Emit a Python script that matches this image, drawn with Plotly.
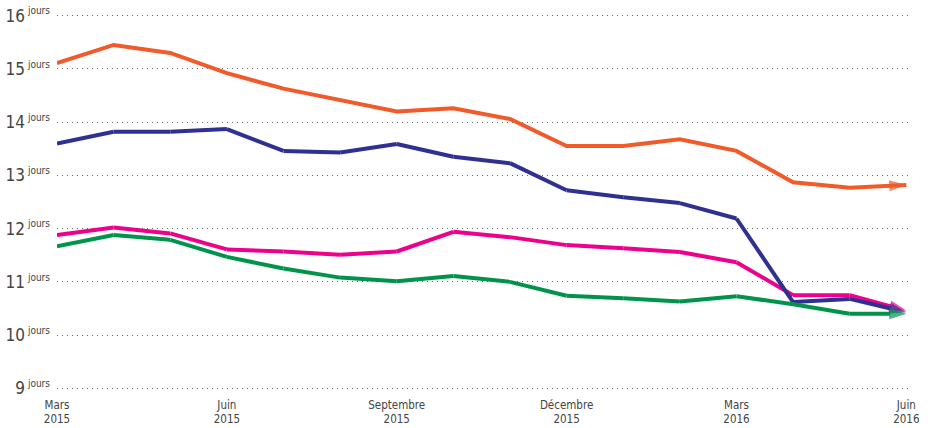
import plotly.graph_objects as go

months = ["2015-03", "2015-04", "2015-05", "2015-06", "2015-07", "2015-08", "2015-09", "2015-10",
          "2015-11", "2015-12", "2016-01", "2016-02", "2016-03", "2016-04", "2016-05", "2016-06"]
tick_months = ["2015-03", "2015-06", "2015-09", "2015-12", "2016-03", "2016-06"]
tick_labels = ["Mars<br>2015", "Juin<br>2015", "Septembre<br>2015", "Décembre<br>2015", "Mars<br>2016", "Juin<br>2016"]

orange = [15.11, 15.45, 15.30, 14.92, 14.63, 14.41, 14.20, 14.26, 14.06, 13.55, 13.55, 13.68, 13.46, 12.87, 12.77, 12.82]
navy = [13.60, 13.82, 13.82, 13.87, 13.46, 13.43, 13.59, 13.35, 13.23, 12.72, 12.59, 12.48, 12.19, 10.62, 10.68, 10.43]
magenta = [11.88, 12.02, 11.91, 11.61, 11.57, 11.51, 11.57, 11.94, 11.84, 11.69, 11.63, 11.56, 11.37, 10.75, 10.75, 10.46]
green = [11.67, 11.88, 11.79, 11.47, 11.25, 11.08, 11.01, 11.11, 11.00, 10.74, 10.69, 10.63, 10.73, 10.58, 10.40, 10.40]

y_ticks = [9, 10, 11, 12, 13, 14, 15, 16]
y_unit = "jours"

series = [
    ("orange", orange, "#F15A29"),
    ("magenta", magenta, "#EC008C"),
    ("navy", navy, "#2E3192"),
    ("green", green, "#00944A"),
]

fig = go.Figure()
n = len(months)
for name, vals, col in series:
    fig.add_trace(go.Scatter(
        x=months, y=vals, mode="lines+markers", name=name,
        line=dict(color=col, width=4),
        marker=dict(symbol="arrow", angleref="previous", color=col,
                    size=[0] * (n - 1) + [18], line=dict(width=0)),
        cliponaxis=False, hoverinfo="skip",
    ))

font_family = "DejaVu Sans Condensed, Liberation Sans Narrow, Roboto Condensed, Roboto, sans-serif"

fig.update_layout(
    width=932, height=428,
    margin=dict(l=57, r=20, t=13, b=37),
    paper_bgcolor="white", plot_bgcolor="white",
    showlegend=False,
    font=dict(family=font_family, color="#444444"),
    xaxis=dict(
        type="category", categoryorder="array", categoryarray=months,
        range=[0, 15.1], automargin=False,
        tickmode="array", tickvals=tick_months, ticktext=tick_labels,
        showgrid=False, zeroline=False, showline=False, ticks="",
        tickfont=dict(size=11.5, color="#444444"),
        ticklabelstandoff=5,
    ),
    yaxis=dict(
        range=[8.95, 16.05], automargin=False,
        tickmode="array", tickvals=y_ticks,
        ticktext=[f"{v}<sup><span style='font-size:10px'> {y_unit}</span></sup>" for v in y_ticks],
        showgrid=True, gridcolor="#666666", griddash="1px,4px", gridwidth=1.2,
        zeroline=False, showline=False, ticks="",
        tickfont=dict(size=17, color="#444444"),
        ticklabelstandoff=6,
    ),
)

fig.write_html("out.html", config={"displayModeBar": False},
               post_script="document.body.style.margin='0';document.body.style.padding='0';")
